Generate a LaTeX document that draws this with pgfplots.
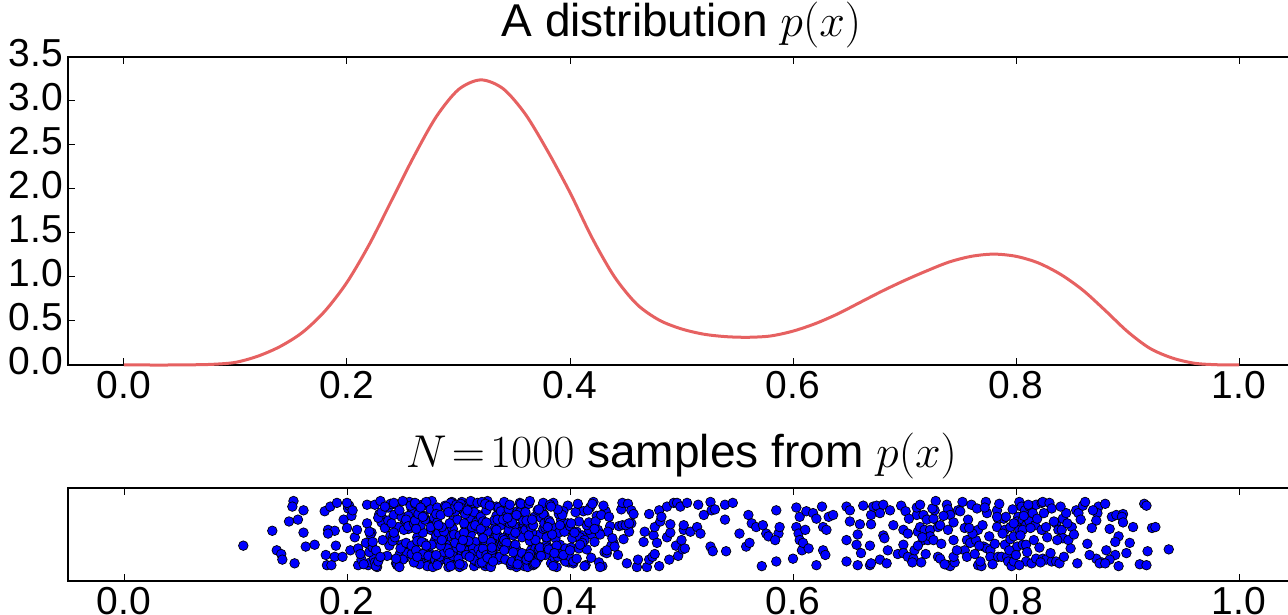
\RequirePackage{fix-cm}
\documentclass[border=0pt]{standalone}
\usepackage{fontspec}
\setmainfont{Liberation Sans}
\usepackage{pgfplots}
\pgfplotsset{compat=1.18}
\definecolor{curvered}{RGB}{230,97,97}
\begin{document}
\begin{tikzpicture}
\pgfplotsset{
  every axis/.append style={
    scale only axis, width=1226.5pt,
    axis line style={line width=1.5pt, black},
    every tick/.style={line width=1pt, black},
    major tick length=7pt,
    tick align=inside,
    xticklabel style={font=\fontsize{39}{45}\selectfont, inner sep=0pt, yshift=-6pt},
    yticklabel style={font=\fontsize{39}{45}\selectfont, inner sep=0pt, xshift=-5pt, yshift=4pt},
    title style={font=\fontsize{46}{52}\selectfont, at={(0.5,1)}, anchor=base, inner sep=0pt},
  }
}
\begin{axis}[name=top, at={(0pt,0pt)}, anchor=north west, height=308pt,
  xmin=-0.05, xmax=1.05, ymin=0, ymax=3.5,
  xtick={0,0.2,0.4,0.6,0.8,1}, xticklabels={0.0,0.2,0.4,0.6,0.8,1.0},
  ytick={0,0.5,1,1.5,2,2.5,3,3.5}, yticklabels={0.0,0.5,1.0,1.5,2.0,2.5,3.0,3.5},
  title={A distribution $p(x)$}, title style={yshift=14pt}, clip=false]
\addplot[curvered, line width=3pt, smooth] table {
x y
0.00 0
0.02 0
0.04 0
0.06 0.002
0.08 0.008
0.10 0.03
0.12 0.10
0.14 0.21
0.16 0.37
0.18 0.61
0.20 0.94
0.22 1.37
0.24 1.87
0.26 2.37
0.28 2.82
0.30 3.13
0.32 3.24
0.34 3.14
0.36 2.85
0.38 2.43
0.40 1.96
0.42 1.44
0.44 1.00
0.46 0.69
0.48 0.51
0.50 0.41
0.52 0.35
0.54 0.322
0.56 0.315
0.58 0.33
0.60 0.385
0.62 0.47
0.64 0.58
0.66 0.71
0.68 0.84
0.70 0.96
0.72 1.07
0.74 1.17
0.76 1.235
0.78 1.26
0.80 1.235
0.82 1.16
0.84 1.03
0.86 0.85
0.88 0.62
0.90 0.38
0.92 0.19
0.94 0.08
0.96 0.02
0.98 0.003
1.00 0
};
\end{axis}
\begin{axis}[name=bot, at={(0pt,-431pt)}, anchor=north west, height=93pt,
  xmin=-50, xmax=1050, ymin=0, ymax=100,
  xtick={0,200,400,600,800,1000}, xticklabels={0.0,0.2,0.4,0.6,0.8,1.0},
  ytick=\empty,
  title={$N\!=\!1000$ samples from $p(x)$}, title style={yshift=15pt}]
\addplot[only marks, mark=*, mark size=4.8pt, mark options={fill=blue, draw=black, line width=0.7pt}] coordinates {
(107,38)(133,54)(137,33)(141,29)(142,23)(148,64)(152,86)(151,80)(156,66)(161,76)(161,52)(153,19)(163,37)(171,39)(180,75)(185,80)(191,84)(183,55)(189,54)(183,51)(181,28)(182,17)(186,17)(189,26)(190,38)(196,26)(201,81)(201,78)(197,66)(200,57)(203,33)(210,17)(219,17)(221,20)(218,82)(225,82)
(207,47)(213,23)(202,81)(218,62)(210,35)(204,70)(215,18)(209,55)(200,84)(212,29)(217,41)(205,76)
(227,15)(233,66)(222,52)(238,38)(230,86)(224,24)(235,59)(229,72)(220,31)(232,44)(237,79)(225,20)(231,63)(221,50)(236,27)(228,68)(239,83)(223,36)(234,57)(226,16)
(231,74)(223,42)(237,65)(228,21)(220,53)(234,80)(226,33)(239,49)(230,26)
(242,71)(253,60)(245,17)(256,85)(249,39)(241,46)(258,77)(247,28)(252,64)(244,19)(255,56)
(244,82)(256,34)(249,69)(241,43)(252,25)(259,75)(246,58)(254,30)(243,47)(250,23)(257,81)(240,62)(248,35)(255,70)(245,18)(251,55)(242,84)(258,29)(253,41)(247,76)
(247,15)(253,66)(242,52)(258,38)(250,86)(244,24)(255,59)
(263,47)(275,55)(268,52)(279,44)(261,83)(271,21)(266,60)(277,64)(273,25)(260,62)(269,41)(264,24)(278,63)(272,16)(262,33)(276,39)(267,82)(274,30)(265,18)(270,66)
(270,31)(278,68)(261,65)(266,71)(274,28)(263,43)(272,81)(268,29)(276,86)(260,20)(279,57)(265,80)(271,85)(262,56)(275,58)(269,70)(277,15)(264,72)(273,27)(267,42)
(263,26)(275,77)(268,69)(279,23)(261,84)(271,38)(266,79)
(290,47)(298,76)(281,79)(286,42)(294,85)(283,43)(292,18)(288,24)(296,83)(280,49)(299,19)(285,23)(291,15)(282,20)(295,65)(289,39)(297,25)(284,55)(293,59)(287,36)
(283,26)(295,56)(288,81)(299,66)(281,63)(291,21)(286,46)(297,75)(293,84)(280,72)(289,57)(284,71)(298,82)(292,62)(282,52)(296,50)(287,53)(294,77)(285,58)(290,29)
(287,31)(293,16)(282,60)(298,34)(290,35)(284,38)(295,27)(289,80)(280,28)(292,30)(297,41)(285,44)(291,74)(281,17)
(304,47)(316,66)(309,27)(301,49)(312,82)(319,70)(306,59)(314,16)(303,85)(310,75)(317,41)(300,20)(308,53)(315,64)(305,81)(311,38)(302,83)(318,71)(313,69)(307,55)
(303,31)(315,42)(308,46)(319,30)(301,15)(311,50)(306,33)(317,56)(313,35)(300,24)(309,57)(304,17)(318,25)(312,29)(302,79)(316,21)(307,28)(314,23)(305,52)(310,68)
(310,26)(318,34)(301,18)(306,72)(314,74)(303,39)(312,58)(308,76)(316,63)(300,80)(319,19)(305,62)(311,86)(302,36)(315,60)(309,43)(317,84)(304,44)
(323,57)(335,71)(328,82)(339,62)(321,52)(331,50)(326,53)(337,77)(333,58)(320,29)(329,31)(324,16)(338,60)(332,34)(322,35)(336,38)(327,27)(334,80)(325,28)(330,30)
(331,41)(323,44)(337,74)(328,17)(320,69)(334,70)(326,86)(339,68)(330,33)(322,64)(333,47)(325,76)(336,79)(329,42)(321,85)(338,43)(327,18)(332,24)(324,83)(335,49)
(324,19)(336,23)(329,15)(321,20)(332,65)(339,39)(326,25)(334,55)(323,59)(330,36)(337,26)(320,56)(328,81)(335,66)(325,63)(331,21)(322,46)(338,75)
(350,57)(358,80)(341,85)(346,56)(354,58)(343,70)(352,15)(348,72)(356,27)(340,42)(359,26)(345,77)(351,69)(342,23)(355,84)(349,38)(357,79)(344,36)(353,53)(347,17)
(347,19)(353,75)(342,35)(358,76)(350,59)(344,50)(355,74)(349,49)(340,46)(352,34)(357,47)(345,55)(351,52)(341,44)(356,83)(348,21)(359,60)(343,64)(354,25)(346,62)
(343,41)(355,24)(348,63)(359,16)(341,33)(351,39)(346,82)(357,30)(353,18)(340,66)(349,31)(344,68)(358,65)(352,71)
(371,38)(363,83)(377,71)(368,69)(360,55)(374,31)(366,42)(379,46)(370,30)(362,15)(373,50)(365,33)(376,56)(369,35)(361,24)(378,57)(367,17)(372,25)(364,29)(375,79)
(370,21)(378,28)(361,23)(366,52)(374,68)(363,26)(372,34)(368,18)(376,72)(360,74)(379,39)(365,58)(371,76)(362,63)(375,80)(369,19)(377,62)(364,86)(373,36)(367,60)
(364,43)(376,84)(369,44)(361,65)(372,77)(379,47)(366,66)(374,27)(363,49)
(383,19)(395,23)(388,15)(399,20)(381,65)(391,39)(386,25)(397,55)(393,59)(380,36)(389,26)(384,56)(398,81)(392,66)(382,63)(396,21)(387,46)(394,75)(385,84)(390,72)
(387,57)(393,71)(382,82)(398,62)(390,52)(384,50)(395,53)(389,77)(380,58)(392,29)(397,31)(385,16)(391,60)(381,34)(396,35)(388,38)(399,27)(383,80)(394,28)(386,30)
(410,38)(418,79)(401,36)(406,53)(414,17)(403,19)(412,75)(408,35)(416,76)(400,59)(419,50)(405,74)(411,49)(402,46)(415,34)(409,47)(417,55)(404,52)(413,44)(407,83)
(403,21)(415,60)(408,64)(419,25)(401,62)(411,41)(406,24)(417,63)(413,16)(400,33)(409,39)
(424,70)(436,59)(429,16)(421,85)(432,75)(439,41)(426,20)(434,53)(423,64)(430,81)(437,38)(420,83)(428,71)(435,69)(425,55)(431,31)(422,42)(438,46)(433,30)(427,15)
(427,50)(433,33)(422,56)
(443,28)(455,62)(448,45)(451,19)(446,77)(440,37)(453,53)(447,84)
(444,59)(447,60)(450,60)(452,83)(453,62)(455,76)(457,72)
(460,15)(461,23)(466,42)(467,53)(469,15)(471,72)(471,23)(474,26)(475,49)(476,29)(476,58)(478,41)(480,16)(480,76)(481,64)(482,69)(487,80)(487,47)(489,23)(490,52)(490,61)(493,84)(496,84)(499,80)(505,84)(495,38)(497,27)(501,34)(503,35)(500,44)(502,55)(502,60)(508,53)(514,58)(515,82)(517,51)(520,71)(526,85)(527,76)(530,77)(526,37)(528,32)(540,32)(539,82)(546,84)(539,66)(552,51)(560,71)(563,62)(567,58)(573,60)(576,51)(585,76)(587,51)(588,58)(558,37)(561,41)(572,16)(585,21)(578,48)(584,44)(600,24)(603,79)(606,69)(603,58)(605,51)(606,44)(608,33)(609,41)(614,35)(611,55)(612,75)(618,73)(626,80)(621,67)(632,69)(636,71)(627,58)(630,55)(627,33)(629,28)(621,17)(648,80)(648,44)(648,21)
(651,76)(651,64)(660,61)(657,39)(661,30)(658,17)(669,17)(670,19)(678,23)(684,19)(669,38)(670,61)(670,71)(672,80)(675,81)(681,82)(687,76)(678,73)(681,49)(682,46)(685,33)(690,60)(694,29)(658,50)(663,81)
(697,81)(701,75)(699,55)(703,51)(699,39)(699,30)(703,26)(708,24)(709,33)(715,20)(712,53)(714,58)(711,71)(711,79)(714,82)(717,71)(720,66)(718,55)(723,55)(717,44)(721,44)(723,48)(726,44)(726,67)(730,58)(732,60)(727,76)(730,26)(732,24)(738,82)(739,77)(741,71)(739,17)(741,16)(745,20)(744,26)(748,76)(750,75)(754,57)(756,44)(754,33)(756,26)(759,41)(760,82)(765,78)(764,44)(766,55)(766,17)(769,16)(768,21)(771,37)(774,35)(773,85)(774,73)(777,33)(777,26)(783,76)(784,67)(783,58)(789,67)(790,55)(790,39)(784,26)(787,26)(792,26)(793,21)(796,16)(798,21)(795,45)(798,48)(801,37)(795,58)(803,85)(805,80)(808,76)(802,69)(801,64)(806,66)(809,60)(803,55)(806,55)(812,64)(812,80)(815,73)(818,82)(823,84)(824,85)(830,84)(832,78)(817,60)(823,55)(827,58)(836,62)(838,55)(842,67)(845,73)(841,55)(842,46)(806,39)(809,39)(809,21)(814,19)(818,24)(824,24)(827,23)(832,21)(836,21)(839,19)(847,44)(850,58)(854,76)(856,73)(860,81)
(704,67)(712,38)(719,29)(725,78)(733,40)(736,18)(744,63)(747,33)(752,85)(757,66)(761,51)(763,29)(770,60)(772,79)(776,48)(779,18)(781,40)(785,83)(788,51)(791,69)(794,33)(797,77)(800,28)(804,49)(807,70)(810,31)(813,57)(816,44)(819,67)(821,36)(825,73)(828,47)(831,30)(834,64)(837,44)(840,80)(843,26)(846,62)(849,35)(852,50)(855,19)(858,66)(744,44)(728,86)(716,47)(707,20)(739,55)(767,38)(798,62)(822,20)(811,82)(735,70)(758,57)(783,69)(803,17)
(862,85)(874,80)(873,73)(880,83)(872,65)(886,69)(890,71)(896,72)(895,69)(896,63)(905,58)(884,56)(892,48)(902,41)(889,42)(881,33)(899,30)(889,28)(884,23)(877,20)(872,24)(875,19)(880,19)(892,16)(915,83)(917,81)(922,57)(925,58)(918,32)(911,18)(917,17)(937,34)(864,40)(868,57)(866,28)(869,76)
};
\end{axis}
\pgfresetboundingbox
\path[use as bounding box] (-68.25pt,57pt) rectangle (1219.75pt,-558pt);
\end{tikzpicture}
\end{document}
